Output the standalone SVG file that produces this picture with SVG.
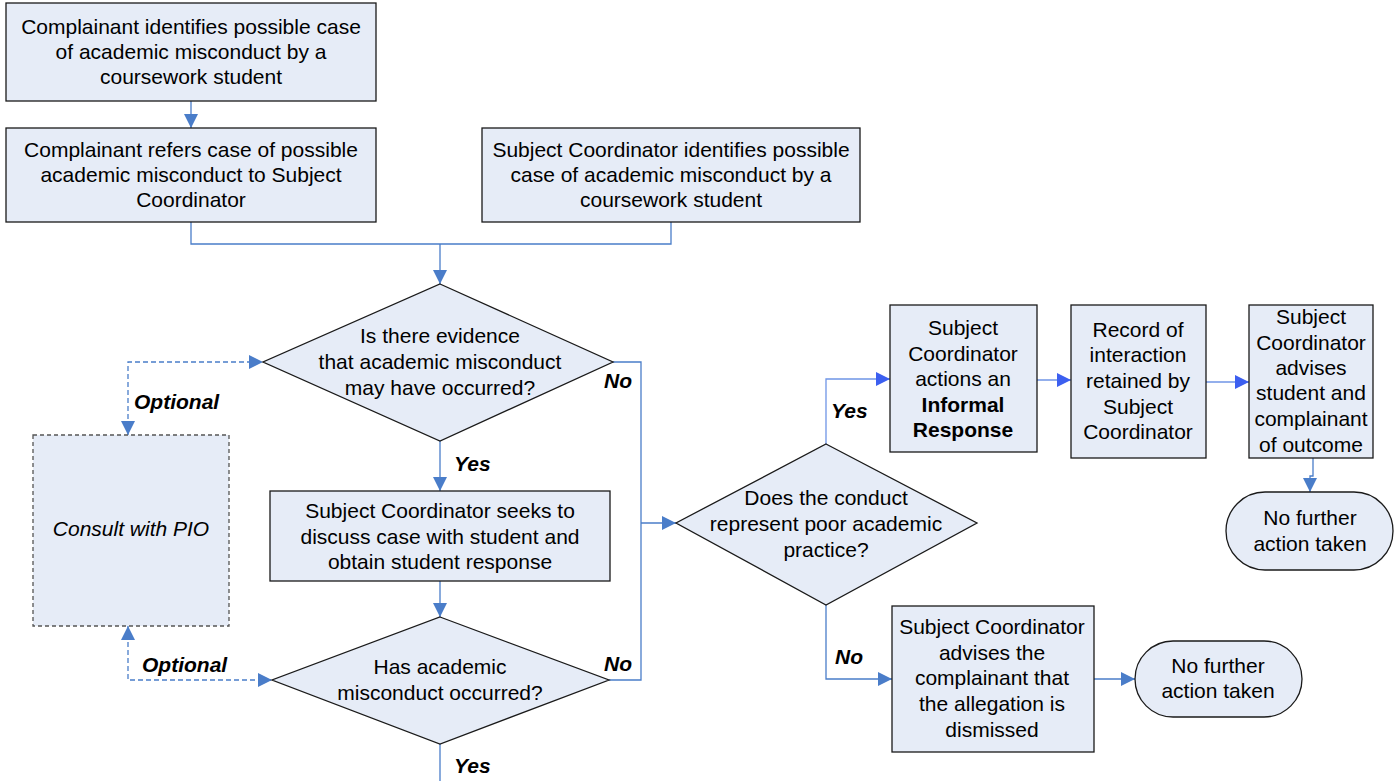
<svg xmlns="http://www.w3.org/2000/svg" width="1397" height="781" viewBox="0 0 1397 781">
<style>
.n{fill:#E6ECF7;stroke:#1a1a1a;stroke-width:1.3}
.d{fill:#E6ECF7;stroke:#555;stroke-width:1.3;stroke-dasharray:4 3}
text{font-family:"Liberation Sans",Arial,sans-serif;font-size:21px;fill:#000;text-anchor:middle}
.b{font-weight:bold}
.lb{font-weight:bold;font-style:italic;text-anchor:start}
.c{fill:none;stroke:#4A7DC9;stroke-width:1.3}
.c2{fill:none;stroke:#6F95E6;stroke-width:1.3}
.cd{fill:none;stroke:#4A7DC9;stroke-width:1.3;stroke-dasharray:5 3}
</style>
<defs>
<marker id="a" viewBox="0 0 10 10" refX="10" refY="5" markerWidth="14" markerHeight="14" markerUnits="userSpaceOnUse" orient="auto"><path d="M0,0L10,5L0,10z" fill="#4A7DC9"/></marker>
<marker id="a2" viewBox="0 0 10 10" refX="10" refY="5" markerWidth="14" markerHeight="14" markerUnits="userSpaceOnUse" orient="auto"><path d="M0,0L10,5L0,10z" fill="#3C5FF0"/></marker>
<marker id="as" viewBox="0 0 10 10" refX="10" refY="5" markerWidth="14" markerHeight="14" markerUnits="userSpaceOnUse" orient="auto-start-reverse"><path d="M0,0L10,5L0,10z" fill="#4A7DC9"/></marker>
</defs>
<g id="connectors">
<path class="c" d="M191,101V128" marker-end="url(#a)"/>
<path class="c" d="M191,222V244H671V222"/>
<path class="c" d="M440,244V284" marker-end="url(#a)"/>
<path class="c" d="M440,441V491" marker-end="url(#a)"/>
<path class="c" d="M440,581V617" marker-end="url(#a)"/>
<path class="c" d="M440,744V781"/>
<path class="c" d="M613,362H641V680H609"/>
<path class="c" d="M641,523H676" marker-end="url(#a)"/>
<path class="c2" d="M826,444V379H890" marker-end="url(#a2)"/>
<path class="c2" d="M1037,380H1071" marker-end="url(#a2)"/>
<path class="c2" d="M1206,382H1249" marker-end="url(#a2)"/>
<path class="c" d="M1313,458V476H1310V492" marker-end="url(#a)"/>
<path class="c" d="M826,605V679H892" marker-end="url(#a)"/>
<path class="c" d="M1094,679H1135" marker-end="url(#a)"/>
<path class="cd" d="M128,435V362H263" marker-start="url(#as)" marker-end="url(#as)"/>
<path class="cd" d="M128,626V680H272" marker-start="url(#as)" marker-end="url(#as)"/>
<text class="lb" x="134" y="409">Optional</text>
<text class="lb" x="142" y="672">Optional</text>
<text class="lb" x="604" y="388">No</text>
<text class="lb" x="604" y="671">No</text>
<text class="lb" x="454" y="471">Yes</text>
<text class="lb" x="454" y="773">Yes</text>
<text class="lb" x="831" y="418">Yes</text>
<text class="lb" x="835" y="664">No</text>
</g>
<g id="n1"><rect class="n" x="6" y="3" width="370" height="98"/>
<text x="191" y="34">Complainant identifies possible case</text><text x="191" y="59">of academic misconduct by a</text><text x="191" y="84">coursework student</text></g>
<g id="n2"><rect class="n" x="6" y="128" width="370" height="94"/>
<text x="191" y="157">Complainant refers case of possible</text><text x="191" y="182">academic misconduct to Subject</text><text x="191" y="207">Coordinator</text></g>
<g id="n3"><rect class="n" x="482" y="128" width="378" height="94"/>
<text x="671" y="157">Subject Coordinator identifies possible</text><text x="671" y="182">case of academic misconduct by a</text><text x="671" y="207">coursework student</text></g>
<g id="d1"><path class="n" d="M440,284L613,362L440,441L263,362Z"/>
<text x="440" y="343">Is there evidence</text><text x="440" y="369">that academic misconduct</text><text x="440" y="395">may have occurred?</text></g>
<g id="n4"><rect class="n" x="270" y="491" width="340" height="90"/>
<text x="440" y="518">Subject Coordinator seeks to</text><text x="440" y="544">discuss case with student and</text><text x="440" y="569">obtain student response</text></g>
<g id="d2"><path class="n" d="M440,617L609,680L440,744L272,680Z"/>
<text x="440" y="674">Has academic</text><text x="440" y="700">misconduct occurred?</text></g>
<g id="pio"><rect class="d" x="33" y="435" width="196" height="191"/>
<text x="131" y="536" font-style="italic">Consult with PIO</text></g>
<g id="d3"><path class="n" d="M826,444L977,523L826,605L676,523Z"/>
<text x="826" y="505">Does the conduct</text><text x="826" y="531">represent poor academic</text><text x="826" y="557">practice?</text></g>
<g id="n5"><rect class="n" x="890" y="305" width="147" height="147"/>
<text x="963" y="335">Subject</text><text x="963" y="361">Coordinator</text><text x="963" y="386">actions an</text><text x="963" y="412" class="b">Informal</text><text x="963" y="437" class="b">Response</text></g>
<g id="n6"><rect class="n" x="1071" y="305" width="135" height="153"/>
<text x="1138" y="337">Record of</text><text x="1138" y="362">interaction</text><text x="1138" y="388">retained by</text><text x="1138" y="414">Subject</text><text x="1138" y="439">Coordinator</text></g>
<g id="n7"><rect class="n" x="1249" y="305" width="124" height="153"/>
<text x="1311" y="324">Subject</text><text x="1311" y="350">Coordinator</text><text x="1311" y="375">advises</text><text x="1311" y="400">student and</text><text x="1311" y="426">complainant</text><text x="1311" y="452">of outcome</text></g>
<g id="t1"><rect class="n" x="1226" y="492" width="167" height="78" rx="39"/>
<text x="1310" y="525">No further</text><text x="1310" y="551">action taken</text></g>
<g id="n8"><rect class="n" x="892" y="606" width="202" height="146"/>
<text x="992" y="634">Subject Coordinator</text><text x="992" y="660">advises the</text><text x="992" y="685">complainant that</text><text x="992" y="711">the allegation is</text><text x="992" y="737">dismissed</text></g>
<g id="t2"><rect class="n" x="1135" y="641" width="167" height="76" rx="38"/>
<text x="1218" y="673">No further</text><text x="1218" y="698">action taken</text></g>
</svg>
